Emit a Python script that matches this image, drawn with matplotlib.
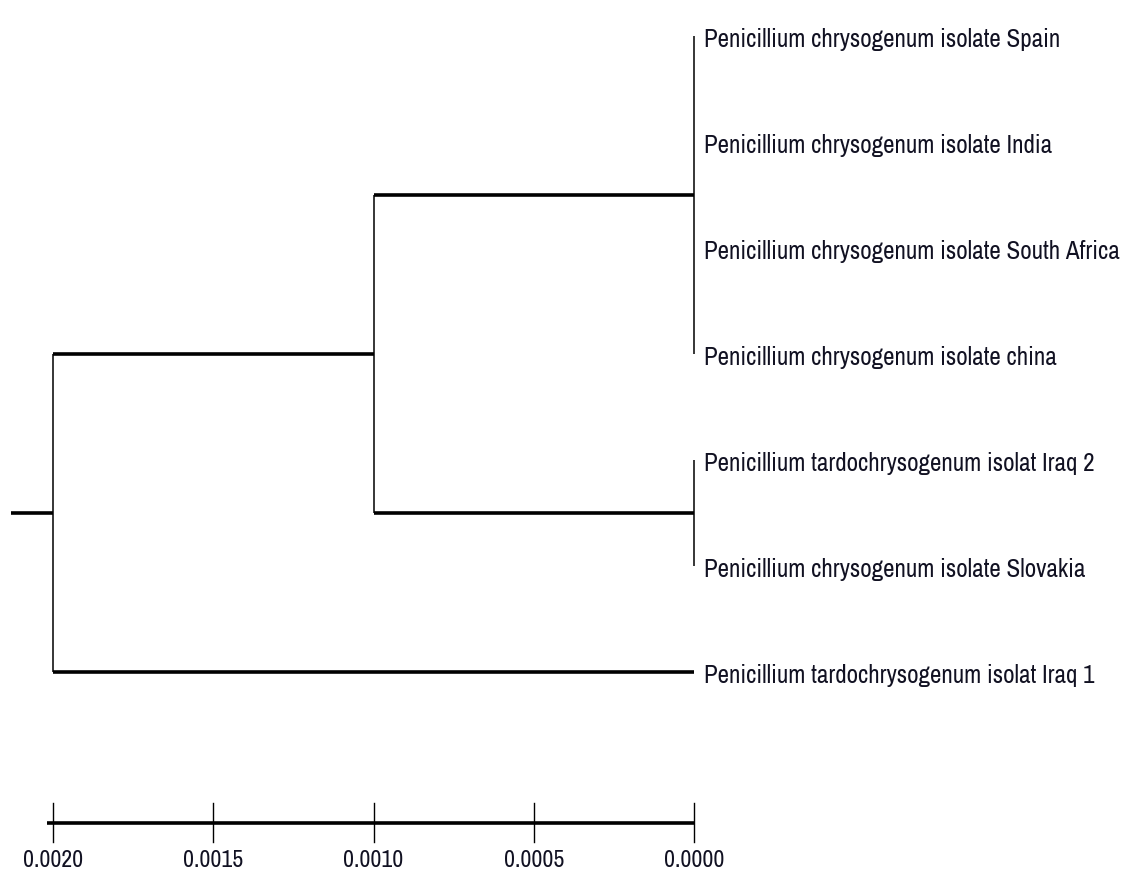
import matplotlib
matplotlib.use("Agg")
import matplotlib.pyplot as plt
from matplotlib import font_manager

# tree data (leaf order top to bottom, distances from the tips)
leaves = [
    "Penicillium chrysogenum isolate Spain",
    "Penicillium chrysogenum isolate India",
    "Penicillium chrysogenum isolate South Africa",
    "Penicillium chrysogenum isolate china",
    "Penicillium tardochrysogenum isolat Iraq 2",
    "Penicillium chrysogenum isolate Slovakia",
    "Penicillium tardochrysogenum isolat Iraq 1",
]
leaf_height = [0.0, 0.0, 0.0, 0.0, 0.0, 0.0, 0.0]
clade_a_height = 0.0      # Spain, India, South Africa, china
clade_b_height = 0.0      # Iraq 2, Slovakia
clade_ab_height = 0.0010
root_height = 0.0020
root_stub = 0.00013

scale_ticks = [0.0020, 0.0015, 0.0010, 0.0005, 0.0000]
scale_labels = ["0.0020", "0.0015", "0.0010", "0.0005", "0.0000"]

# pick a narrow font if one is installed
names = sorted({f.name for f in font_manager.fontManager.ttflist})
narrow = [n for n in names if "Narrow" in n or "Condensed" in n]
fonts = narrow[:1] + ["Liberation Sans", "DejaVu Sans"]

fig = plt.figure(figsize=(11.26, 8.92), dpi=100)
ax = fig.add_axes([0, 0, 1, 1])
ax.set_xlim(0.0021654, -0.0013479)
ax.set_ylim(8.075, -0.3396)
ax.axis("off")

hw = 2.6   # horizontal branches
vw = 1.1   # vertical connectors
col = "black"

def hline(y, x0, x1, lw=hw):
    ax.plot([x0, x1], [y, y], color=col, lw=lw, solid_capstyle="butt")

def vline(x, y0, y1, lw=vw):
    ax.plot([x, x], [y0, y1], color=col, lw=lw, solid_capstyle="butt")

ya = [0, 1, 2, 3]
yb = [4, 5]
y_a = (ya[0] + ya[-1]) / 2
y_b = (yb[0] + yb[-1]) / 2
y_ab = (y_a + y_b) / 2
y_root = (y_ab + 6) / 2

vline(clade_a_height, ya[0], ya[-1])
vline(clade_b_height, yb[0], yb[-1])
hline(y_a, clade_ab_height, clade_a_height)
hline(y_b, clade_ab_height, clade_b_height)
vline(clade_ab_height, y_a, y_b)
hline(y_ab, root_height, clade_ab_height)
hline(6, root_height, leaf_height[6])
vline(root_height, y_ab, 6)
hline(y_root, root_height + root_stub, root_height)

# fit label size so the longest label spans about 417 px
renderer = fig.canvas.get_renderer()
probe = ax.text(0, 0, leaves[2], fontsize=20, family=fonts)
w = probe.get_window_extent(renderer).width
probe.remove()
label_size = 20 * 416 / w
probe = ax.text(0, 0, scale_labels[0], fontsize=20, family=fonts)
w = probe.get_window_extent(renderer).width
probe.remove()
tick_size = min(20 * 60 / w, 24)

for i, name in enumerate(leaves):
    ax.text(leaf_height[i] - 0.00003, i + 0.03, name, fontsize=label_size,
            family=fonts, ha="left", va="center", color="#111122")

# scale bar
bar_y = 7.425
ax.plot([scale_ticks[0] + 0.00002, scale_ticks[-1]], [bar_y, bar_y],
        color=col, lw=2.6, solid_capstyle="butt")
for t, lab in zip(scale_ticks, scale_labels):
    ax.plot([t, t], [7.236, 7.604], color=col, lw=1.0)
    ax.text(t, 7.68, lab, fontsize=tick_size, family=fonts, ha="center",
            va="top", color="#111122")

fig.savefig("out.png", dpi=100, facecolor="white")
